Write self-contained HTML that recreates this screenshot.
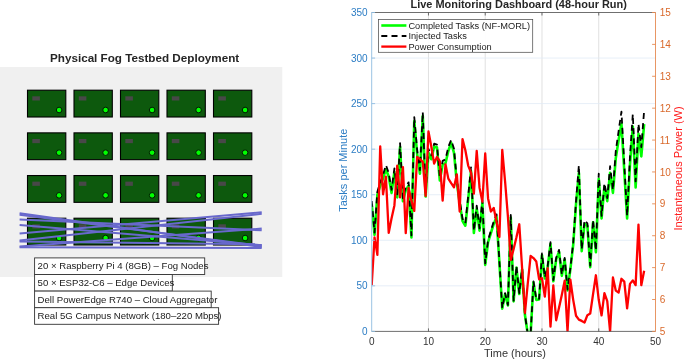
<!DOCTYPE html>
<html lang="en"><head><meta charset="utf-8"><title>Physical Fog Testbed Deployment – Live Monitoring Dashboard</title>
<style>html,body{margin:0;padding:0;background:#fff;}svg{display:block;}text{font-family:'Liberation Sans', sans-serif;}</style></head><body>
<svg width="685" height="359" viewBox="0 0 685 359">
<rect x="0" y="0" width="685" height="359" fill="#ffffff"/>
<g id="testbed">
<rect x="0" y="67" width="282.3" height="210" fill="#f0f0f0"/>
<text x="144.6" y="61.6" text-anchor="middle" font-size="11.68" font-weight="bold" fill="#262626">Physical Fog Testbed Deployment</text>
<rect x="27.50" y="90.20" width="38.3" height="26.8" fill="#0d590d" stroke="#000" stroke-width="1.1"/>
<rect x="32.30" y="96.30" width="7.6" height="4.2" fill="#484848"/>
<circle cx="59.10" cy="110.00" r="2.8" fill="#00ff00" stroke="#031a03" stroke-width="1"/>
<rect x="74.00" y="90.20" width="38.3" height="26.8" fill="#0d590d" stroke="#000" stroke-width="1.1"/>
<rect x="78.80" y="96.30" width="7.6" height="4.2" fill="#484848"/>
<circle cx="105.60" cy="110.00" r="2.8" fill="#00ff00" stroke="#031a03" stroke-width="1"/>
<rect x="120.50" y="90.20" width="38.3" height="26.8" fill="#0d590d" stroke="#000" stroke-width="1.1"/>
<rect x="125.30" y="96.30" width="7.6" height="4.2" fill="#484848"/>
<circle cx="152.10" cy="110.00" r="2.8" fill="#00ff00" stroke="#031a03" stroke-width="1"/>
<rect x="167.00" y="90.20" width="38.3" height="26.8" fill="#0d590d" stroke="#000" stroke-width="1.1"/>
<rect x="171.80" y="96.30" width="7.6" height="4.2" fill="#484848"/>
<circle cx="198.60" cy="110.00" r="2.8" fill="#00ff00" stroke="#031a03" stroke-width="1"/>
<rect x="213.50" y="90.20" width="38.3" height="26.8" fill="#0d590d" stroke="#000" stroke-width="1.1"/>
<rect x="218.30" y="96.30" width="7.6" height="4.2" fill="#484848"/>
<circle cx="245.10" cy="110.00" r="2.8" fill="#00ff00" stroke="#031a03" stroke-width="1"/>
<rect x="27.50" y="132.87" width="38.3" height="26.8" fill="#0d590d" stroke="#000" stroke-width="1.1"/>
<rect x="32.30" y="138.97" width="7.6" height="4.2" fill="#484848"/>
<circle cx="59.10" cy="152.67" r="2.8" fill="#00ff00" stroke="#031a03" stroke-width="1"/>
<rect x="74.00" y="132.87" width="38.3" height="26.8" fill="#0d590d" stroke="#000" stroke-width="1.1"/>
<rect x="78.80" y="138.97" width="7.6" height="4.2" fill="#484848"/>
<circle cx="105.60" cy="152.67" r="2.8" fill="#00ff00" stroke="#031a03" stroke-width="1"/>
<rect x="120.50" y="132.87" width="38.3" height="26.8" fill="#0d590d" stroke="#000" stroke-width="1.1"/>
<rect x="125.30" y="138.97" width="7.6" height="4.2" fill="#484848"/>
<circle cx="152.10" cy="152.67" r="2.8" fill="#00ff00" stroke="#031a03" stroke-width="1"/>
<rect x="167.00" y="132.87" width="38.3" height="26.8" fill="#0d590d" stroke="#000" stroke-width="1.1"/>
<rect x="171.80" y="138.97" width="7.6" height="4.2" fill="#484848"/>
<circle cx="198.60" cy="152.67" r="2.8" fill="#00ff00" stroke="#031a03" stroke-width="1"/>
<rect x="213.50" y="132.87" width="38.3" height="26.8" fill="#0d590d" stroke="#000" stroke-width="1.1"/>
<rect x="218.30" y="138.97" width="7.6" height="4.2" fill="#484848"/>
<circle cx="245.10" cy="152.67" r="2.8" fill="#00ff00" stroke="#031a03" stroke-width="1"/>
<rect x="27.50" y="175.54" width="38.3" height="26.8" fill="#0d590d" stroke="#000" stroke-width="1.1"/>
<rect x="32.30" y="181.64" width="7.6" height="4.2" fill="#484848"/>
<circle cx="59.10" cy="195.34" r="2.8" fill="#00ff00" stroke="#031a03" stroke-width="1"/>
<rect x="74.00" y="175.54" width="38.3" height="26.8" fill="#0d590d" stroke="#000" stroke-width="1.1"/>
<rect x="78.80" y="181.64" width="7.6" height="4.2" fill="#484848"/>
<circle cx="105.60" cy="195.34" r="2.8" fill="#00ff00" stroke="#031a03" stroke-width="1"/>
<rect x="120.50" y="175.54" width="38.3" height="26.8" fill="#0d590d" stroke="#000" stroke-width="1.1"/>
<rect x="125.30" y="181.64" width="7.6" height="4.2" fill="#484848"/>
<circle cx="152.10" cy="195.34" r="2.8" fill="#00ff00" stroke="#031a03" stroke-width="1"/>
<rect x="167.00" y="175.54" width="38.3" height="26.8" fill="#0d590d" stroke="#000" stroke-width="1.1"/>
<rect x="171.80" y="181.64" width="7.6" height="4.2" fill="#484848"/>
<circle cx="198.60" cy="195.34" r="2.8" fill="#00ff00" stroke="#031a03" stroke-width="1"/>
<rect x="213.50" y="175.54" width="38.3" height="26.8" fill="#0d590d" stroke="#000" stroke-width="1.1"/>
<rect x="218.30" y="181.64" width="7.6" height="4.2" fill="#484848"/>
<circle cx="245.10" cy="195.34" r="2.8" fill="#00ff00" stroke="#031a03" stroke-width="1"/>
<rect x="27.50" y="218.21" width="38.3" height="26.8" fill="#0d590d" stroke="#000" stroke-width="1.1"/>
<rect x="32.30" y="224.31" width="7.6" height="4.2" fill="#484848"/>
<circle cx="59.10" cy="238.01" r="2.8" fill="#00ff00" stroke="#031a03" stroke-width="1"/>
<rect x="74.00" y="218.21" width="38.3" height="26.8" fill="#0d590d" stroke="#000" stroke-width="1.1"/>
<rect x="78.80" y="224.31" width="7.6" height="4.2" fill="#484848"/>
<circle cx="105.60" cy="238.01" r="2.8" fill="#00ff00" stroke="#031a03" stroke-width="1"/>
<rect x="120.50" y="218.21" width="38.3" height="26.8" fill="#0d590d" stroke="#000" stroke-width="1.1"/>
<rect x="125.30" y="224.31" width="7.6" height="4.2" fill="#484848"/>
<circle cx="152.10" cy="238.01" r="2.8" fill="#00ff00" stroke="#031a03" stroke-width="1"/>
<rect x="167.00" y="218.21" width="38.3" height="26.8" fill="#0d590d" stroke="#000" stroke-width="1.1"/>
<rect x="171.80" y="224.31" width="7.6" height="4.2" fill="#484848"/>
<circle cx="198.60" cy="238.01" r="2.8" fill="#00ff00" stroke="#031a03" stroke-width="1"/>
<rect x="213.50" y="218.21" width="38.3" height="26.8" fill="#0d590d" stroke="#000" stroke-width="1.1"/>
<rect x="218.30" y="224.31" width="7.6" height="4.2" fill="#484848"/>
<circle cx="245.10" cy="238.01" r="2.8" fill="#00ff00" stroke="#031a03" stroke-width="1"/>
<g stroke="#6868cc" stroke-width="2" stroke-linecap="butt" fill="none">
<line x1="19.6" y1="213.3" x2="261.7" y2="247.0"/>
<line x1="19.6" y1="214.8" x2="261.7" y2="246.1"/>
<line x1="19.6" y1="219.6" x2="261.7" y2="230.3"/>
<line x1="19.6" y1="225.1" x2="261.7" y2="245.2"/>
<line x1="19.6" y1="233.6" x2="261.7" y2="212.2"/>
<line x1="19.6" y1="240.4" x2="261.7" y2="213.8"/>
<line x1="19.6" y1="241.6" x2="261.7" y2="244.3"/>
<line x1="19.6" y1="247.2" x2="261.7" y2="247.9"/>
<line x1="19.6" y1="246.4" x2="261.7" y2="228.6"/>
</g>
<rect x="34.6" y="257.90" width="170.10" height="16.6" fill="#fff" stroke="#333" stroke-width="0.9"/>
<rect x="34.6" y="274.50" width="137.70" height="16.6" fill="#fff" stroke="#333" stroke-width="0.9"/>
<rect x="34.6" y="291.10" width="176.60" height="16.6" fill="#fff" stroke="#333" stroke-width="0.9"/>
<rect x="34.6" y="307.70" width="184.00" height="16.6" fill="#fff" stroke="#333" stroke-width="0.9"/>
<text x="37.6" y="269.30" font-size="9.6" fill="#1a1a1a">20 × Raspberry Pi 4 (8GB) – Fog Nodes</text>
<text x="37.6" y="285.90" font-size="9.6" fill="#1a1a1a">50 × ESP32-C6 – Edge Devices</text>
<text x="37.6" y="302.50" font-size="9.6" fill="#1a1a1a">Dell PowerEdge R740 – Cloud Aggregator</text>
<text x="37.6" y="319.10" font-size="9.6" fill="#1a1a1a">Real 5G Campus Network (180–220 Mbps)</text>
</g>
<g id="dashboard">
<rect x="371.7" y="12.5" width="283.80" height="318.90" fill="#fff"/>
<g stroke="#dcdcdc" stroke-width="0.9">
<line x1="428.46" y1="12.5" x2="428.46" y2="331.4"/>
<line x1="485.22" y1="12.5" x2="485.22" y2="331.4"/>
<line x1="541.98" y1="12.5" x2="541.98" y2="331.4"/>
<line x1="598.74" y1="12.5" x2="598.74" y2="331.4"/>
</g><g stroke="#dfeaf5" stroke-width="0.8">
<line x1="371.7" y1="285.84" x2="655.5" y2="285.84"/>
<line x1="371.7" y1="240.29" x2="655.5" y2="240.29"/>
<line x1="371.7" y1="194.73" x2="655.5" y2="194.73"/>
<line x1="371.7" y1="149.17" x2="655.5" y2="149.17"/>
<line x1="371.7" y1="103.61" x2="655.5" y2="103.61"/>
<line x1="371.7" y1="58.06" x2="655.5" y2="58.06"/>
</g>
<clipPath id="clip"><rect x="371.7" y="12.5" width="283.80" height="318.90"/></clipPath>
<g clip-path="url(#clip)" fill="none" stroke-linejoin="round">
<polyline points="371.70,203.84 374.54,234.82 377.38,194.73 380.21,185.62 383.05,178.33 385.89,169.22 388.73,176.51 391.57,192.91 394.40,171.95 397.24,197.46 400.08,146.80 402.92,201.11 405.76,190.17 408.59,185.62 411.43,237.55 414.27,120.93 417.11,153.73 419.95,173.77 422.78,115.91 425.62,196.55 428.46,152.82 431.30,159.19 434.14,146.44 436.97,147.35 439.81,180.51 442.65,164.66 445.49,163.20 448.33,150.99 451.16,142.79 454.00,152.82 456.84,182.88 459.68,202.93 462.52,221.15 465.35,225.71 468.19,199.28 471.03,171.04 473.87,233.00 476.71,208.40 479.54,230.63 482.38,202.93 485.22,264.89 488.06,242.11 490.90,233.00 493.73,223.89 496.57,216.96 499.41,263.06 502.25,308.62 505.09,294.04 507.92,305.52 510.76,217.51 513.60,301.33 516.44,267.62 519.28,294.04 522.11,269.44 524.95,315.00 527.79,334.13 530.63,334.13 533.47,282.38 536.30,299.87 539.14,299.51 541.98,255.05 544.82,278.55 547.66,267.62 550.49,244.02 553.33,281.29 556.17,259.42 559.01,251.67 561.85,275.82 564.68,259.42 567.52,290.40 570.36,269.44 573.20,244.84 576.04,203.84 578.87,172.86 581.71,251.22 584.55,223.89 587.39,225.71 590.23,267.16 593.06,222.34 595.90,252.13 598.74,178.78 601.58,218.42 604.42,186.53 607.25,201.11 610.09,172.86 612.93,192.91 615.77,158.28 618.61,140.06 621.44,123.66 624.28,171.04 627.12,218.42 629.96,164.66 632.80,126.58 635.63,187.44 638.47,133.68 641.31,156.46 644.15,124.21" stroke="#00ff00" stroke-width="2.6"/>
<polyline points="371.70,200.97 374.54,232.65 377.38,191.65 380.21,182.34 383.05,174.88 385.89,165.06 388.73,173.02 391.57,189.79 394.40,168.36 397.24,194.45 400.08,143.04 402.92,198.18 405.76,187.00 408.59,182.34 411.43,235.44 414.27,117.07 417.11,149.73 419.95,170.23 422.78,112.19 425.62,193.52 428.46,148.80 431.30,155.32 434.14,143.62 436.97,144.55 439.81,177.12 442.65,160.91 445.49,159.42 448.33,146.94 451.16,139.92 454.00,148.80 456.84,179.54 459.68,200.04 462.52,218.67 465.35,223.33 468.19,196.31 471.03,167.43 473.87,230.78 476.71,205.63 479.54,228.36 482.38,200.04 485.22,263.39 488.06,240.10 490.90,230.78 493.73,221.47 496.57,214.39 499.41,261.53 502.25,308.11 505.09,293.20 507.92,304.94 510.76,214.95 513.60,300.66 516.44,266.19 519.28,293.20 522.11,268.05 524.95,314.63 527.79,334.19 530.63,334.19 533.47,281.28 536.30,299.17 539.14,298.79 541.98,253.33 544.82,277.36 547.66,266.19 550.49,242.06 553.33,280.16 556.17,257.80 559.01,249.88 561.85,274.57 564.68,257.80 567.52,289.48 570.36,268.05 573.20,242.89 576.04,200.97 578.87,165.39 581.71,249.42 584.55,220.22 587.39,223.33 590.23,265.72 593.06,219.88 595.90,250.35 598.74,173.74 601.58,215.88 604.42,183.27 607.25,198.18 610.09,166.26 612.93,189.79 615.77,151.07 618.61,131.04 621.44,111.57 624.28,163.48 627.12,215.88 629.96,156.80 632.80,114.19 635.63,181.44 638.47,123.71 641.31,147.25 644.15,110.28" stroke="#000" stroke-width="1.8" stroke-dasharray="6 4.2"/>
<polyline points="371.70,285.16 374.54,237.32 377.38,254.86 380.21,146.44 383.05,194.27 385.89,176.73 388.73,232.86 391.57,218.19 394.40,205.43 397.24,165.57 400.08,197.46 402.92,167.17 405.76,233.18 408.59,187.89 411.43,200.65 414.27,210.86 417.11,156.96 419.95,159.19 422.78,161.75 425.62,195.87 428.46,131.45 431.30,146.44 434.14,163.66 436.97,156.96 439.81,161.11 442.65,200.65 445.49,164.30 448.33,178.65 451.16,183.11 454.00,187.26 456.84,174.50 459.68,211.49 462.52,139.10 465.35,150.26 468.19,165.57 471.03,172.59 473.87,193.64 476.71,150.90 479.54,187.89 482.38,201.61 485.22,153.45 488.06,198.42 490.90,211.49 493.73,207.99 496.57,222.02 499.41,237.01 502.25,149.95 505.09,181.52 507.92,216.60 510.76,259.97 513.60,249.12 516.44,237.32 519.28,224.25 522.11,268.26 524.95,312.90 527.79,283.25 530.63,255.82 533.47,258.05 536.30,261.56 539.14,279.42 541.98,278.14 544.82,296.64 547.66,268.26 550.49,326.62 553.33,285.48 556.17,320.24 559.01,307.80 561.85,294.73 564.68,280.69 567.52,331.40 570.36,279.74 573.20,299.83 576.04,315.77 578.87,319.60 581.71,320.88 584.55,322.47 587.39,315.14 590.23,313.54 593.06,294.09 595.90,275.27 598.74,299.83 601.58,315.45 604.42,293.13 607.25,301.10 610.09,331.40 612.93,277.51 615.77,290.58 618.61,292.49 621.44,278.78 624.28,281.65 627.12,308.44 629.96,283.88 632.80,280.38 635.63,285.16 638.47,224.57 641.31,285.16 644.15,270.81" stroke="#ff0000" stroke-width="2.3"/>
</g>
<line x1="371.7" y1="12.5" x2="655.5" y2="12.5" stroke="#4a4a4a" stroke-width="0.8"/>
<line x1="371.7" y1="331.4" x2="655.5" y2="331.4" stroke="#4a4a4a" stroke-width="0.8"/>
<line x1="371.7" y1="12.5" x2="371.7" y2="331.4" stroke="#8fbce0" stroke-width="0.9"/>
<line x1="655.5" y1="12.5" x2="655.5" y2="331.4" stroke="#e58a52" stroke-width="0.9"/>
<g stroke="#4a4a4a" stroke-width="0.8">
<line x1="428.46" y1="331.4" x2="428.46" y2="328.4"/>
<line x1="428.46" y1="12.5" x2="428.46" y2="15.5"/>
<line x1="485.22" y1="331.4" x2="485.22" y2="328.4"/>
<line x1="485.22" y1="12.5" x2="485.22" y2="15.5"/>
<line x1="541.98" y1="331.4" x2="541.98" y2="328.4"/>
<line x1="541.98" y1="12.5" x2="541.98" y2="15.5"/>
<line x1="598.74" y1="331.4" x2="598.74" y2="328.4"/>
<line x1="598.74" y1="12.5" x2="598.74" y2="15.5"/>
</g><g stroke="#8fbce0" stroke-width="0.9">
<line x1="371.7" y1="331.40" x2="375.09999999999997" y2="331.40"/>
<line x1="371.7" y1="285.84" x2="375.09999999999997" y2="285.84"/>
<line x1="371.7" y1="240.29" x2="375.09999999999997" y2="240.29"/>
<line x1="371.7" y1="194.73" x2="375.09999999999997" y2="194.73"/>
<line x1="371.7" y1="149.17" x2="375.09999999999997" y2="149.17"/>
<line x1="371.7" y1="103.61" x2="375.09999999999997" y2="103.61"/>
<line x1="371.7" y1="58.06" x2="375.09999999999997" y2="58.06"/>
<line x1="371.7" y1="12.50" x2="375.09999999999997" y2="12.50"/>
</g><g stroke="#e58a52" stroke-width="0.9">
<line x1="655.5" y1="331.40" x2="652.1" y2="331.40"/>
<line x1="655.5" y1="299.51" x2="652.1" y2="299.51"/>
<line x1="655.5" y1="267.62" x2="652.1" y2="267.62"/>
<line x1="655.5" y1="235.73" x2="652.1" y2="235.73"/>
<line x1="655.5" y1="203.84" x2="652.1" y2="203.84"/>
<line x1="655.5" y1="171.95" x2="652.1" y2="171.95"/>
<line x1="655.5" y1="140.06" x2="652.1" y2="140.06"/>
<line x1="655.5" y1="108.17" x2="652.1" y2="108.17"/>
<line x1="655.5" y1="76.28" x2="652.1" y2="76.28"/>
<line x1="655.5" y1="44.39" x2="652.1" y2="44.39"/>
<line x1="655.5" y1="12.50" x2="652.1" y2="12.50"/>
</g>
<g font-size="10" fill="#333">
<text x="371.70" y="344.7" text-anchor="middle">0</text>
<text x="428.46" y="344.7" text-anchor="middle">10</text>
<text x="485.22" y="344.7" text-anchor="middle">20</text>
<text x="541.98" y="344.7" text-anchor="middle">30</text>
<text x="598.74" y="344.7" text-anchor="middle">40</text>
<text x="655.50" y="344.7" text-anchor="middle">50</text>
</g><g font-size="10" fill="#2b7cc4" text-anchor="end">
<text x="367.6" y="335.00">0</text>
<text x="367.6" y="289.44">50</text>
<text x="367.6" y="243.89">100</text>
<text x="367.6" y="198.33">150</text>
<text x="367.6" y="152.77">200</text>
<text x="367.6" y="107.21">250</text>
<text x="367.6" y="61.66">300</text>
<text x="367.6" y="16.10">350</text>
</g><g font-size="10" fill="#d9682a">
<text x="659.8" y="335.00">5</text>
<text x="659.8" y="303.11">6</text>
<text x="659.8" y="271.22">7</text>
<text x="659.8" y="239.33">8</text>
<text x="659.8" y="207.44">9</text>
<text x="659.8" y="175.55">10</text>
<text x="659.8" y="143.66">11</text>
<text x="659.8" y="111.77">12</text>
<text x="659.8" y="79.88">13</text>
<text x="659.8" y="47.99">14</text>
<text x="659.8" y="16.10">15</text>
</g>
<text x="515" y="356.7" text-anchor="middle" font-size="11" fill="#333">Time (hours)</text>
<text transform="translate(346.6,170.2) rotate(-90)" text-anchor="middle" font-size="11" fill="#2b7cc4">Tasks per Minute</text>
<text transform="translate(682,168.4) rotate(-90)" text-anchor="middle" font-size="11" fill="#ff1a1a">Instantaneous Power (W)</text>
<text x="518.7" y="7.8" text-anchor="middle" font-size="10.95" font-weight="bold" fill="#262626">Live Monitoring Dashboard (48-hour Run)</text>
<g id="legend">
<rect x="378.5" y="19.5" width="154.2" height="32.8" fill="#fff" fill-opacity="0.93" stroke="#4d4d4d" stroke-width="0.75"/>
<line x1="381.3" y1="25.5" x2="406.4" y2="25.5" stroke="#00ff00" stroke-width="2.6"/>
<line x1="381.3" y1="36" x2="406.4" y2="36" stroke="#000" stroke-width="1.8" stroke-dasharray="6 4.2"/>
<line x1="381.3" y1="46.6" x2="406.4" y2="46.6" stroke="#ff0000" stroke-width="2.3"/>
<g font-size="9.25" fill="#222">
<text x="408.4" y="28.7">Completed Tasks (NF-MORL)</text>
<text x="408.4" y="39.2">Injected Tasks</text>
<text x="408.4" y="49.7">Power Consumption</text>
</g></g>
</g>
</svg></body></html>
